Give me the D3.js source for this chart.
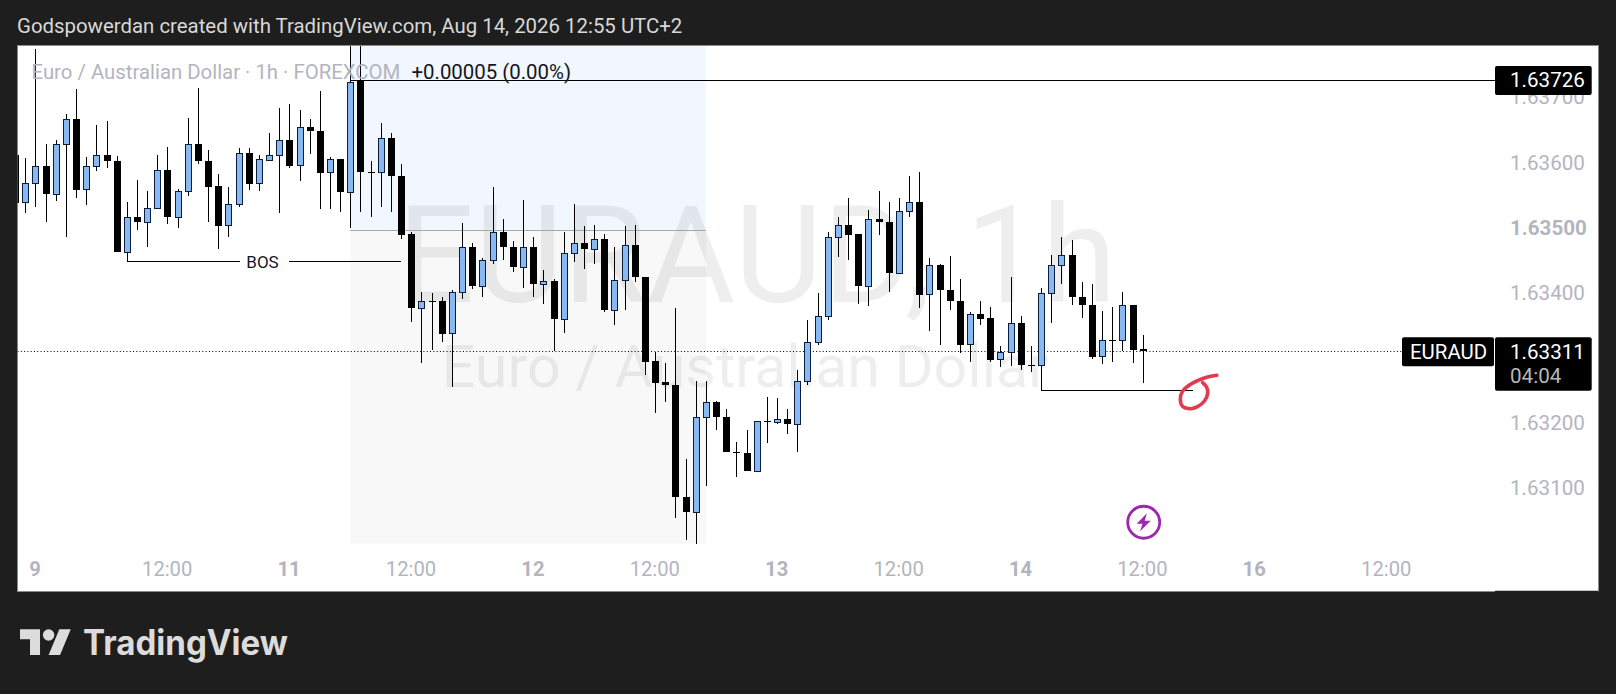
<!DOCTYPE html>
<html><head><meta charset="utf-8">
<style>html,body{margin:0;padding:0;background:#1e1e1e;overflow:hidden}svg{display:block}text{font-family:Roboto,sans-serif}</style>
<script src="https://cdn.jsdelivr.net/npm/d3@7/dist/d3.min.js"></script>
</head><body><svg id="c" width="1616" height="694"></svg>
<script>
const opens=[1.63612,1.63539,1.63568,1.63594,1.63551,1.63629,1.63666,1.63559,1.63594,1.63611,
1.63603,1.63462,1.63516,1.63508,1.6353,1.63589,1.63517,1.63556,1.63629,1.63603,
1.63564,1.63504,1.63537,1.63614,1.63568,1.63604,1.63612,1.63634,1.63596,1.63655,
1.63649,1.63585,1.63605,1.63555,1.63725,1.63586,1.63586,1.63637,1.6358,1.6349,
1.63377,1.63387,1.63387,1.63338,1.63402,1.63471,1.63411,1.6345,1.63494,1.63471,
1.63439,1.63471,1.63413,1.63418,1.6336,1.63461,1.63477,1.63468,1.63482,1.63373,
1.63419,1.63474,1.63425,1.63295,1.63263,1.63258,1.63086,1.63063,1.63209,1.63232,
1.6321,1.63156,1.63155,1.63126,1.63203,1.63202,1.63206,1.63199,1.63264,1.63324,
1.63365,1.63485,1.63504,1.6349,1.6341,1.63514,1.63508,1.63431,1.63525,1.6354,
1.63398,1.63442,1.63405,1.63388,1.63321,1.63367,1.63361,1.63298,1.63309,1.63353,
1.6329,1.63289,1.63399,1.63442,1.63458,1.63393,1.63382,1.63303,1.63327,1.63327,
1.63381,1.63314];
const closes=[1.63538,1.63568,1.63594,1.63551,1.63629,1.63666,1.63558,1.63594,1.63611,1.63603,
1.63462,1.63516,1.63508,1.6353,1.63589,1.63517,1.63556,1.63629,1.63603,1.63563,
1.63503,1.63537,1.63614,1.63567,1.63605,1.63612,1.63634,1.63595,1.63655,1.63649,
1.63584,1.63605,1.63555,1.63724,1.63586,1.63586,1.63637,1.6358,1.63489,1.63377,
1.63387,1.63387,1.63337,1.63402,1.63471,1.63411,1.6345,1.63494,1.63471,1.63439,
1.63471,1.63413,1.63418,1.6336,1.63461,1.63477,1.63468,1.63482,1.63373,1.63419,
1.63474,1.63425,1.63294,1.63262,1.63258,1.63086,1.63063,1.63209,1.63232,1.6321,
1.63156,1.63155,1.63126,1.63203,1.63203,1.63206,1.63199,1.63264,1.63324,1.63365,
1.63485,1.63504,1.63489,1.6341,1.63514,1.63508,1.63431,1.63525,1.6354,1.63397,
1.63442,1.63405,1.63388,1.6332,1.63367,1.6336,1.63297,1.63309,1.63353,1.6329,
1.63289,1.63399,1.63442,1.63458,1.63393,1.63382,1.63302,1.63327,1.63327,1.63381,
1.63313,1.63311];
const highs=[1.63617,1.63607,1.63774,1.63628,1.63634,1.63675,1.63713,1.63608,1.63657,1.63663,
1.6361,1.63539,1.63573,1.63557,1.63611,1.63624,1.6356,1.63668,1.63714,1.63619,
1.63582,1.63563,1.63622,1.63622,1.63612,1.63646,1.63683,1.63689,1.63681,1.63666,
1.63709,1.63608,1.63605,1.63788,1.63788,1.63603,1.6366,1.63646,1.63597,1.63494,
1.63402,1.63399,1.63393,1.63405,1.63507,1.63476,1.63454,1.63562,1.63513,1.63479,
1.63542,1.63485,1.63435,1.63421,1.63494,1.63536,1.63502,1.63504,1.63491,1.6347,
1.63502,1.63504,1.63425,1.63309,1.63293,1.63377,1.63145,1.63264,1.63264,1.63234,
1.63221,1.63171,1.63189,1.63203,1.6324,1.63238,1.63221,1.63281,1.63358,1.63399,
1.63494,1.63517,1.63545,1.6349,1.63527,1.63556,1.63539,1.63546,1.63579,1.63585,
1.63453,1.63444,1.63456,1.63421,1.6337,1.63388,1.63378,1.63318,1.63424,1.63364,
1.63319,1.63408,1.63458,1.63485,1.63481,1.63416,1.63413,1.63372,1.63378,1.63401,
1.63381,1.63335];
const lows=[1.6353,1.63523,1.63531,1.63509,1.63541,1.63485,1.63546,1.63535,1.63587,1.63592,
1.63462,1.63462,1.63497,1.63471,1.63528,1.63506,1.635,1.63549,1.63597,1.63509,
1.63468,1.63486,1.63532,1.63558,1.63556,1.63603,1.63523,1.63592,1.63571,1.63613,
1.63528,1.63528,1.63524,1.635,1.63524,1.63517,1.63532,1.63524,1.63482,1.63356,
1.63293,1.63312,1.63325,1.63255,1.63391,1.63406,1.63393,1.63445,1.63451,1.63432,
1.63408,1.63394,1.63383,1.63311,1.63339,1.63448,1.63436,1.63445,1.6337,1.63351,
1.63374,1.63416,1.63274,1.63215,1.63232,1.63055,1.63021,1.63015,1.63104,1.63189,
1.63156,1.63118,1.63126,1.63126,1.6317,1.63199,1.63184,1.63156,1.63258,1.6332,
1.63359,1.63455,1.63451,1.63383,1.6338,1.63488,1.63402,1.63431,1.63516,1.63377,
1.63342,1.6332,1.63374,1.63308,1.63294,1.63351,1.63294,1.63286,1.63287,1.63282,
1.63278,1.63288,1.63353,1.63414,1.63382,1.63362,1.63299,1.63291,1.63294,1.63311,
1.63293,1.63262];
const priceTicks=[1.631,1.632,1.634,1.635,1.636,1.637];
const boldPriceTicks=[1.635];
const timeBars=[2,15,27,39,51,63,75,87,99,111,122,135];
const timeLabels=["9","12:00","11","12:00","12","12:00","13","12:00","14","12:00","16","12:00"];
const boldTimeLabels=["9","11","12","13","14","16"];
const lastPrice=1.63311, highLine=1.63726;
const zoneBars=[33,68], zonePrices=[1.639,1.63496,1.63015];
const bosBars=[11,38], bosPrice=1.63449, bosGap=[22.1,27];
const lineBars=[101,116], linePrice=1.63251;
const inkBars=[118.3,117.3,116.4,115.6,114.9,114.7,114.9,115.7,116.4,117.1,117.4,117.3,116.9];
const inkPrices=[1.632735,1.632704,1.632652,1.632586,1.632483,1.632366,1.632264,1.632222,1.632253,1.632345,1.632459,1.63255,1.632621];
const iconBar=111, iconPrice=1.63048;

const svg=d3.select("#c");
const L=17.5,R=1598.5,T=46,B=591.5,AX=1495;
const x=d3.scaleLinear().domain([0,111]).range([15.1,1142.7]);
const y=d3.scaleLinear().domain([1.631,1.637]).range([488.35,97.33]);
const defs=svg.append("defs");
defs.append("clipPath").attr("id","plot").append("rect").attr("x",L).attr("y",T).attr("width",AX-L).attr("height",B-T);

// header
svg.append("text").attr("x",17).attr("y",33).attr("fill","#d8d8d8").attr("font-size",20.4)
 .text("Godspowerdan created with TradingView.com, Aug 14, 2026 12:55 UTC+2");
// panel
svg.append("rect").attr("x",L).attr("y",T-.5).attr("width",R-L).attr("height",B-T+.5).attr("fill","#fff").attr("stroke","#8a8a8a").attr("stroke-width",1);
svg.append("line").attr("x1",AX).attr("x2",R).attr("y1",B).attr("y2",B).attr("stroke","#1e1e1e").attr("stroke-width",1.5);

const plot=svg.append("g").attr("clip-path","url(#plot)");
// zones
plot.append("rect").attr("x",x(zoneBars[0])).attr("y",y(zonePrices[0])).attr("width",x(zoneBars[1])-x(zoneBars[0])).attr("height",y(zonePrices[1])-y(zonePrices[0])).attr("fill","#f2f6fe");
plot.append("rect").attr("x",x(zoneBars[0])).attr("y",y(zonePrices[1])).attr("width",x(zoneBars[1])-x(zoneBars[0])).attr("height",y(zonePrices[2])-y(zonePrices[1])).attr("fill","#f8f8f8");
// watermark
plot.append("text").attr("x",757).attr("y",302).attr("text-anchor","middle").attr("font-size",136).attr("fill","#000").attr("fill-opacity",.065).text("EURAUD, 1h");
plot.append("text").attr("x",745).attr("y",387).attr("text-anchor","middle").attr("font-size",59.2).attr("fill","#000").attr("fill-opacity",.065).text("Euro / Australian Dollar");
plot.append("line").attr("x1",x(zoneBars[0])).attr("x2",x(zoneBars[1])).attr("y1",Math.round(y(zonePrices[1]))+.5).attr("y2",Math.round(y(zonePrices[1]))+.5).attr("stroke","#a8a8a8");
// last price dotted
plot.append("line").attr("x1",L).attr("x2",AX).attr("y1",Math.round(y(lastPrice))+.5).attr("y2",Math.round(y(lastPrice))+.5).attr("stroke","#000").attr("stroke-dasharray","1 2.3");
// high line
plot.append("line").attr("x1",x(zoneBars[0])).attr("x2",AX).attr("y1",Math.round(y(highLine))+.5).attr("y2",Math.round(y(highLine))+.5).attr("stroke","#000");
// candles
const bars=d3.range(opens.length);
const cx=i=>Math.round(x(i))+.5;
const g=plot.append("g").attr("shape-rendering","crispEdges");
g.selectAll(".w").data(bars).join("line").attr("x1",cx).attr("x2",cx).attr("y1",i=>y(highs[i])).attr("y2",i=>y(lows[i])).attr("stroke","#000");
g.selectAll(".b").data(bars).join("rect")
 .attr("x",i=>closes[i]>opens[i]?cx(i)-3:cx(i)-3.5)
 .attr("width",i=>closes[i]>opens[i]?6:7)
 .attr("y",i=>{const t=Math.round(y(Math.max(opens[i],closes[i])));return closes[i]>opens[i]?t+.5:t;})
 .attr("height",i=>Math.max(1,Math.round(y(Math.min(opens[i],closes[i])))-Math.round(y(Math.max(opens[i],closes[i])))))
 .attr("fill",i=>closes[i]>opens[i]?"#8ab8f2":"#000")
 .attr("stroke",i=>closes[i]>opens[i]?"#0b1f3a":"none");
// BOS
const by=Math.round(y(bosPrice))+.5;
const bos=plot.append("g").attr("stroke","#000").attr("shape-rendering","crispEdges");
bos.append("line").attr("x1",cx(bosBars[0])).attr("x2",cx(bosBars[0])).attr("y1",y(lows[bosBars[0]])).attr("y2",by);
bos.append("line").attr("x1",cx(bosBars[0])).attr("x2",x(bosGap[0])).attr("y1",by).attr("y2",by);
bos.append("line").attr("x1",x(bosGap[1])).attr("x2",x(bosBars[1])).attr("y1",by).attr("y2",by);
plot.append("text").attr("x",(x(bosGap[0])+x(bosGap[1]))/2-2).attr("y",by+6).attr("text-anchor","middle").attr("font-size",17).attr("fill","#131722").text("BOS");
// second line
const ly=Math.round(y(linePrice))+.5;
const ln=plot.append("g").attr("stroke","#000").attr("shape-rendering","crispEdges");
ln.append("line").attr("x1",cx(lineBars[0])).attr("x2",cx(lineBars[0])).attr("y1",y(lows[lineBars[0]])).attr("y2",ly);
ln.append("line").attr("x1",cx(lineBars[0])).attr("x2",x(lineBars[1])).attr("y1",ly).attr("y2",ly);
// ink
plot.append("path").attr("d",d3.line().x((d,i)=>x(inkBars[i])).y(d=>y(d)).curve(d3.curveCatmullRom)(inkPrices)).attr("fill","none").attr("stroke","#e23a4e").attr("stroke-width",3.6).attr("stroke-linecap","round");
// icon
const ic=plot.append("g").attr("transform",`translate(${x(iconBar)+1},${y(iconPrice)})`);
ic.append("circle").attr("r",16).attr("fill","#fff").attr("stroke","#9c27b0").attr("stroke-width",2.8);
ic.append("path").attr("d","M3.2 -9 L-7 1.4 L-1.2 1.4 L-3.6 9 L7 -1.6 L1 -1.6 Z").attr("fill","#9c27b0");
// legend
plot.append("text").attr("x",31.5).attr("y",78.5).attr("font-size",20.35).attr("fill","#b2b5be").text("Euro / Australian Dollar · 1h · FOREXCOM");
plot.append("text").attr("x",411.5).attr("y",78.5).attr("font-size",20.4).attr("fill","#131722").text("+0.00005 (0.00%)");
// price axis
const fmt=d3.format(".5f");
svg.selectAll(".pt").data(priceTicks).join("text").attr("x",1510).attr("y",p=>y(p)+7)
 .attr("font-size",20.6).attr("fill","#b2b5be").attr("font-weight",p=>boldPriceTicks.includes(p)?700:400).text(fmt);
// time axis
svg.selectAll(".tt").data(timeBars).join("text").attr("x",i=>x(i)-.3).attr("y",576).attr("text-anchor","middle")
 .attr("font-size",20.2).attr("fill","#b2b5be").attr("font-weight",(d,i)=>boldTimeLabels.includes(timeLabels[i])?700:400).text((d,i)=>timeLabels[i]);
// labels
svg.append("rect").attr("x",AX).attr("y",y(highLine)-14.5).attr("width",96.7).attr("height",29).attr("rx",2).attr("fill","#000");
svg.append("text").attr("x",1510).attr("y",y(highLine)+7).attr("font-size",20.6).attr("fill","#fff").text(fmt(highLine));
const ly2=y(lastPrice)+.8;
svg.append("rect").attr("x",1402).attr("y",ly2-14.5).attr("width",92).attr("height",29).attr("rx",2).attr("fill","#000");
svg.append("text").attr("x",1410).attr("y",ly2+7).attr("font-size",20.4).attr("fill","#fff").text("EURAUD");
svg.append("rect").attr("x",AX).attr("y",ly2-14.5).attr("width",96.7).attr("height",53.5).attr("rx",2).attr("fill","#000");
svg.append("text").attr("x",1510).attr("y",ly2+7).attr("font-size",20.6).attr("fill","#fff").text(fmt(lastPrice));
svg.append("text").attr("x",1510).attr("y",ly2+31).attr("font-size",20.6).attr("fill","#b8b8b8").text("04:04");
// logo
const logo=svg.append("g").attr("transform","translate(20,623.6) scale(1.43)").attr("fill","#dcdcdc");
logo.append("path").attr("d","M14 22H7V11H0V4h14v18zM28 22h-8l7.5-18h8L28 22z");
logo.append("circle").attr("cx",20).attr("cy",8).attr("r",4);
svg.append("text").attr("x",83).attr("y",655).attr("font-size",35).attr("font-weight",700).attr("fill","#dcdcdc").attr("textLength",205).attr("lengthAdjust","spacingAndGlyphs").style("font-family","Inter,sans-serif").text("TradingView");
</script></body></html>
